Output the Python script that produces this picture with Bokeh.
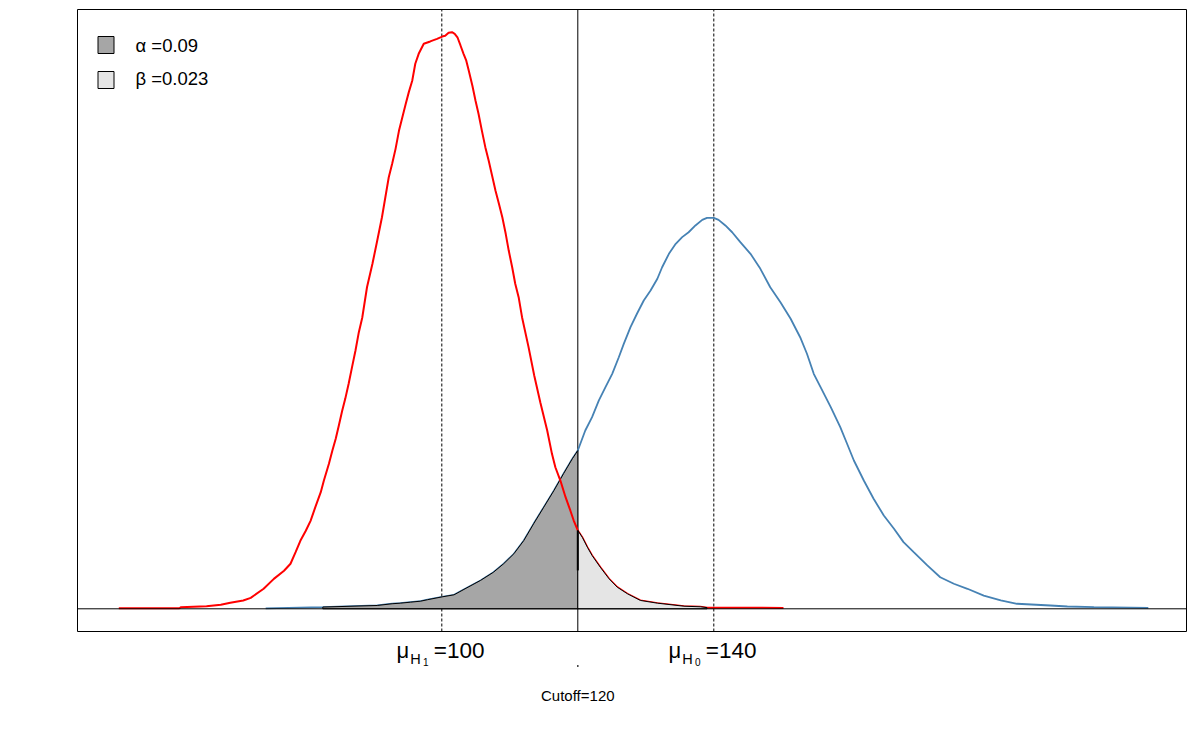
import numpy as np
from bokeh.plotting import figure
from bokeh.models import Range1d
from bokeh.embed import file_html
from bokeh.resources import INLINE
from bokeh.core.properties import value

# ---------------- data ----------------
h1_x = [52.5, 61.4, 61.6, 65.4, 67.5, 68.9, 70.8, 71.9, 73.8, 75.3,
        76.8, 77.75, 78.5, 79.2, 80.0, 80.7, 81.4, 82.2, 82.65, 83.4,
        83.9, 84.4, 84.85, 85.35, 85.8, 86.3, 86.8, 87.3, 87.8, 88.3,
        89.0, 89.8, 90.5, 91.2, 91.7, 92.2, 92.7, 93.2, 93.7, 94.2,
        94.7, 95.15, 95.65, 96.1, 96.6, 97.35, 98.3, 99.3, 100.06, 100.5,
        101.0, 101.5, 101.9, 102.3, 102.75, 103.2, 103.6, 103.97, 104.5, 104.96,
        105.4, 105.9, 106.4, 106.9, 107.4, 107.9, 108.4, 108.9, 109.4, 109.85,
        110.35, 110.8, 111.3, 111.8, 112.75, 113.6, 114.5, 115.5, 116.2, 116.7,
        117.45, 118.2, 118.9, 119.4, 120.0, 120.65, 121.4, 122.1, 123.3, 124.6,
        125.8, 127.3, 129.2, 131.7, 135.6, 138.0, 139.0, 150.25]
h1_density = [0.00003, 0.00004, 0.0001, 0.00018, 0.00028, 0.00042, 0.00058, 0.00076, 0.00139, 0.00208,
              0.00264, 0.00313, 0.00393, 0.00472, 0.00542, 0.00611, 0.00706, 0.0081, 0.00889, 0.01007,
              0.01097, 0.01181, 0.01271, 0.01375, 0.01458, 0.01563, 0.01678, 0.01792, 0.01921, 0.02021,
              0.02233, 0.02396, 0.02556, 0.02719, 0.02858, 0.02997, 0.0309, 0.03194, 0.03319, 0.03414,
              0.03507, 0.03588, 0.03667, 0.03785, 0.03854, 0.03924, 0.0394, 0.03958, 0.03974, 0.03979,
              0.04, 0.04004, 0.03993, 0.03969, 0.03912, 0.03854, 0.03806, 0.03736, 0.03632, 0.03528,
              0.03438, 0.03319, 0.03206, 0.03111, 0.03007, 0.02903, 0.02813, 0.02719, 0.02604, 0.02486,
              0.02372, 0.02257, 0.02164, 0.02025, 0.01819, 0.01618, 0.01431, 0.01238, 0.01076, 0.00983,
              0.00889, 0.00775, 0.00683, 0.00613, 0.00544, 0.00497, 0.00428, 0.0037, 0.00289, 0.00208,
              0.0015, 0.00104, 0.00058, 0.00039, 0.00018, 0.00014, 0.00008, 0.00006]

h0_x = [74.1, 82.5, 90.5, 92.7, 93.9, 95.4, 96.9, 97.9, 100.06, 101.8,
        103.7, 105.7, 107.6, 109.1, 110.6, 112.06, 113.5, 115.0, 116.5, 117.9,
        119.2, 120.0, 121.1, 122.1, 123.1, 124.07, 125.06, 126.03, 126.76, 127.75,
        128.7, 129.7, 130.7, 131.7, 132.4, 133.4, 134.4, 135.35, 136.3, 137.3,
        138.3, 139.0, 140.0, 140.7, 141.7, 142.7, 143.9, 145.4, 146.85, 148.3,
        149.8, 151.3, 152.7, 153.7, 154.7, 155.7, 157.2, 158.6, 159.6, 160.6,
        162.06, 163.5, 165.0, 166.5, 167.9, 169.4, 171.4, 173.3, 175.3, 177.3,
        179.7, 182.2, 184.6, 189.5, 192.0, 195.9, 203.9]
h0_density = [0.00003, 0.00012, 0.00023, 0.00035, 0.00039, 0.00046, 0.00053, 0.00063, 0.00083, 0.00097,
              0.00146, 0.00197, 0.00254, 0.00313, 0.00382, 0.00474, 0.0059, 0.00706, 0.00822, 0.00938,
              0.01042, 0.01099, 0.01238, 0.01331, 0.01447, 0.01539, 0.01632, 0.01747, 0.0184, 0.01956,
              0.02049, 0.02141, 0.0221, 0.02292, 0.02372, 0.02465, 0.02535, 0.02581, 0.02615, 0.02662,
              0.02701, 0.02715, 0.02715, 0.02701, 0.02662, 0.02615, 0.02546, 0.02465, 0.02361, 0.02233,
              0.02129, 0.02014, 0.01886, 0.01771, 0.01632, 0.01539, 0.014, 0.01261, 0.01146, 0.0103,
              0.00891, 0.00764, 0.00648, 0.00556, 0.00463, 0.00393, 0.00301, 0.00219, 0.00174, 0.00139,
              0.00092, 0.00058, 0.00035, 0.00023, 0.00016, 0.00011, 0.00007]

mu_values = [100, 140]          # mu_H1, mu_H0
mu_subscripts = ["1", "0"]
cutoff = 120
alpha_region_start = 82.5
beta_region_end = 139.0
legend_labels = ["α =0.09", "β =0.023"]
legend_colors = ["#A6A6A6", "#E5E5E5"]

assert len(h1_x) == len(h1_density) and len(h0_x) == len(h0_density)

# ---------------- layout (pixel geometry of the page) ----------------
W, H = 1198, 737
PX_PER_X = 6.8
PX_AT_MU1 = 441.3
BASE_PX = 608.3
PX_PER_Y = 14400.0

x_start = mu_values[0] - PX_AT_MU1 / PX_PER_X
x_end = x_start + W / PX_PER_X
y_end = BASE_PX / PX_PER_Y
y_start = -(H - BASE_PX) / PX_PER_Y


def px_x(px):
    return x_start + px / PX_PER_X


def px_y(py):
    return (BASE_PX - py) / PX_PER_Y


FONT = value("Liberation Sans")

p = figure(width=W, height=H, x_range=Range1d(x_start, x_end), y_range=Range1d(y_start, y_end),
           output_backend="svg", toolbar_location=None, x_axis_type=None, y_axis_type=None,
           min_border=0, min_border_left=0, min_border_right=0, min_border_top=0, min_border_bottom=0)
p.outline_line_color = None
p.background_fill_color = "white"
p.border_fill_color = "white"

box_l, box_r, box_t, box_b = px_x(77), px_x(1186), px_y(9), px_y(631)

# vertical reference lines
p.segment(x0=mu_values, x1=mu_values, y0=[box_b] * 2, y1=[box_t] * 2,
          line_color="black", line_width=1, line_dash="3 2")
p.segment(x0=[cutoff], x1=[cutoff], y0=[box_b], y1=[box_t], line_color="black", line_width=1)

h1x = np.array(h1_x)
h1d = np.array(h1_density)
h0x = np.array(h0_x)
h0d = np.array(h0_density)

# H0 curve
p.line(h0x, h0d, line_color="#4682B4", line_width=1.8)

# alpha region under H0 left of cutoff
m = (h0x >= alpha_region_start) & (h0x <= cutoff)
ax = [h0x[m][0]] + list(h0x[m]) + [cutoff]
ay = [0] + list(h0d[m]) + [0]
p.patch(ax, ay, fill_color=legend_colors[0], line_color="black", line_width=1)

# H1 curve
p.line(h1x, h1d, line_color="#FF0000", line_width=2)

# beta region under H1 right of cutoff
m = (h1x >= cutoff) & (h1x <= beta_region_end)
bx = [cutoff] + list(h1x[m]) + [h1x[m][-1]]
by = [0] + list(h1d[m]) + [0]
p.patch(bx, by, fill_color=legend_colors[1], line_color="black", line_width=1)

# short heavier edge at the cutoff
red_at_cut = h1d[np.argmin(np.abs(h1x - cutoff))]
p.segment(x0=[cutoff], x1=[cutoff], y0=[red_at_cut], y1=[red_at_cut * 0.49],
          line_color="black", line_width=2)

# baseline
p.segment(x0=[box_l], x1=[box_r], y0=[0], y1=[0], line_color="black", line_width=1)

# plot box
p.quad(left=[box_l], right=[box_r], top=[box_t], bottom=[box_b],
       fill_color=None, line_color="black", line_width=1)

# legend
sq_tops = [px_y(36), px_y(71)]
sq_bots = [px_y(53), px_y(88)]
p.quad(left=[px_x(97.5)] * 2, right=[px_x(113.5)] * 2, top=sq_tops, bottom=sq_bots,
       fill_color=legend_colors, line_color="black", line_width=1)
p.text(x=[px_x(135)] * 2, y=[px_y(45.0), px_y(78.0)], text=legend_labels,
       text_font=FONT, text_font_size="18.5px", text_color="black",
       text_align="left", text_baseline="alphabetic")

# axis-like labels: mu_H =value
p.text(x=mu_values, y=[px_y(649.5)] * 2, text=["μ", "μ"], x_offset=-45.3,
       text_font=FONT, text_font_size="22px", text_align="left", text_baseline="alphabetic")
p.text(x=mu_values, y=[px_y(658.5)] * 2, text=["H", "H"], x_offset=-31.5,
       text_font=FONT, text_font_size="14.5px", text_align="left", text_baseline="alphabetic")
p.text(x=mu_values, y=[px_y(661.3)] * 2, text=mu_subscripts, x_offset=-18.8,
       text_font=FONT, text_font_size="10px", text_align="left", text_baseline="alphabetic")
p.text(x=mu_values, y=[px_y(649.5)] * 2, text=[f"={v}" for v in mu_values], x_offset=-8.0,
       text_font=FONT, text_font_size="22.5px", text_align="left", text_baseline="alphabetic")

# tiny tick mark below cutoff and its label
p.scatter(x=[cutoff], y=[px_y(665.5)], marker="square", size=1.5, fill_color="black", line_color=None)
p.text(x=[cutoff], y=[px_y(695)], text=[f"Cutoff={cutoff}"],
       text_font=FONT, text_font_size="15px", text_align="center", text_baseline="alphabetic")

open("out.html", "w").write(file_html(p, INLINE))
